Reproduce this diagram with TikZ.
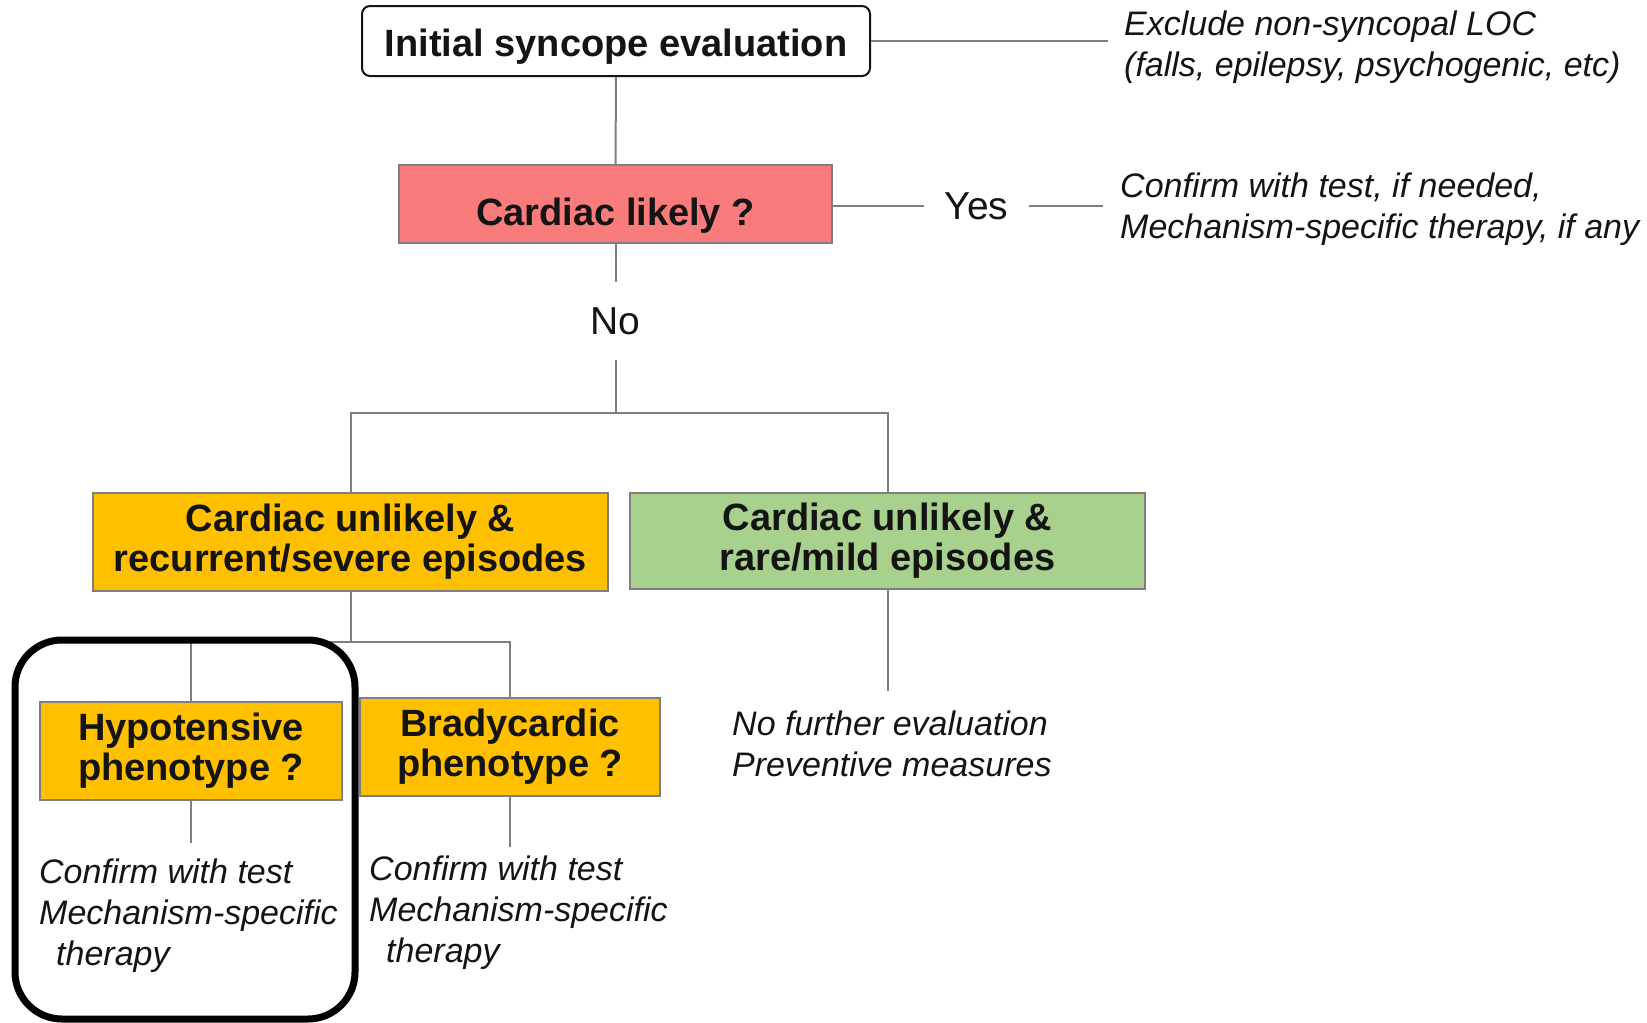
\documentclass[tikz,border=0pt]{standalone}
\usepackage{fontspec}
\setmainfont{Liberation Sans}
\definecolor{boxorange}{HTML}{FFC000}
\definecolor{boxgreen}{HTML}{A9D18E}
\definecolor{boxred}{HTML}{F97B7B}
\definecolor{linegray}{HTML}{7F7F7F}
\definecolor{inkblack}{HTML}{141414}
\tikzset{
  conn/.style={draw=linegray, line width=2pt},
  boldbox/.style={draw=linegray, line width=2pt, inner sep=0pt, align=center,
    font=\fontsize{38}{40}\selectfont\bfseries, text=inkblack},
  note/.style={inner sep=0pt, align=left, anchor=west,
    font=\fontsize{34}{41}\selectfont\itshape, text=inkblack},
  answer/.style={inner sep=0pt, font=\fontsize{39}{41}\selectfont, text=inkblack},
}
\begin{document}
\begin{tikzpicture}[x=1pt,y=-1pt]
\useasboundingbox[fill=white] (0,0) rectangle (1647,1023);

% boxes
\node[boldbox, draw=inkblack, rounded corners=8pt, fill=white, text height=38pt, text depth=8pt,
  minimum width=508pt, minimum height=70pt] (init) at (616,41) {Initial syncope evaluation};
\node[boldbox, fill=boxred, text height=51pt, text depth=8pt,
  minimum width=433pt, minimum height=78pt] (cardiac) at (615.5,204) {Cardiac likely ?};
\node[boldbox, fill=boxorange, minimum width=515pt, minimum height=98pt] (recur) at (350.5,542) {Cardiac unlikely \&\\recurrent/severe episodes};
\node[boldbox, fill=boxgreen, minimum width=515pt, minimum height=96pt] (rare) at (887.5,541) {Cardiac unlikely \&\\rare/mild episodes};
\node[boldbox, fill=boxorange, minimum width=302pt, minimum height=98pt] (hypo) at (191,751) {Hypotensive\\phenotype ?};
\node[boldbox, fill=boxorange, minimum width=300pt, minimum height=98pt] (brady) at (510,747) {Bradycardic\\phenotype ?};

% answers
\node[answer, minimum width=105pt, minimum height=20pt] (yes) at (976.5,206) {Yes};
\node[answer, minimum width=60pt, minimum height=78pt] (no) at (615.5,321) {No};

% notes
\node[note] (excl) at (1124,47) {Exclude non-syncopal LOC\\(falls, epilepsy, psychogenic, etc)};
\node[note] (confirm) at (1120,209) {Confirm with test, if needed,\\Mechanism-specific therapy, if any};
\node[note] (nofurther) at (732,744) {No further evaluation\\Preventive measures};
\node[note] (hypotxt) at (39,916) {Confirm with test\\Mechanism-specific\\\hspace*{17pt}therapy};
\node[note] (bradytxt) at (369,913) {Confirm with test\\Mechanism-specific\\\hspace*{17pt}therapy};

% free ends
\coordinate (exclend) at (1108,43);
\coordinate (yesend) at (1103,206);
\coordinate (split1) at (615.5,413);
\coordinate (split2) at (350.5,642);
\coordinate (hypoend) at (191,843);
\coordinate (bradyend) at (510,847);
\coordinate (rareend) at (887.5,691);

% connectors
\draw[conn] (init.east) -- (init.east -| exclend);
\draw[conn] (init.south) -- (cardiac.north);
\draw[conn] (cardiac.east |- yes.west) -- (yes.west);
\draw[conn] (yes.east) -- (yesend);
\draw[conn] (cardiac.south) -- (no.north);
\draw[conn] (no.south) -- (split1);
\draw[conn] (split1) -| (recur.north);
\draw[conn] (split1) -| (rare.north);
\draw[conn] (recur.south) -- (split2);
\draw[conn] (split2) -| (hypo.north);
\draw[conn] (split2) -| (brady.north);
\draw[conn] (hypo.south) -- (hypoend);
\draw[conn] (brady.south) -- (bradyend);
\draw[conn] (rare.south) -- (rareend);

% highlight frame
\draw[line width=7pt, black, rounded corners=47pt] (15,640) rectangle (355,1019);
\end{tikzpicture}
\end{document}
